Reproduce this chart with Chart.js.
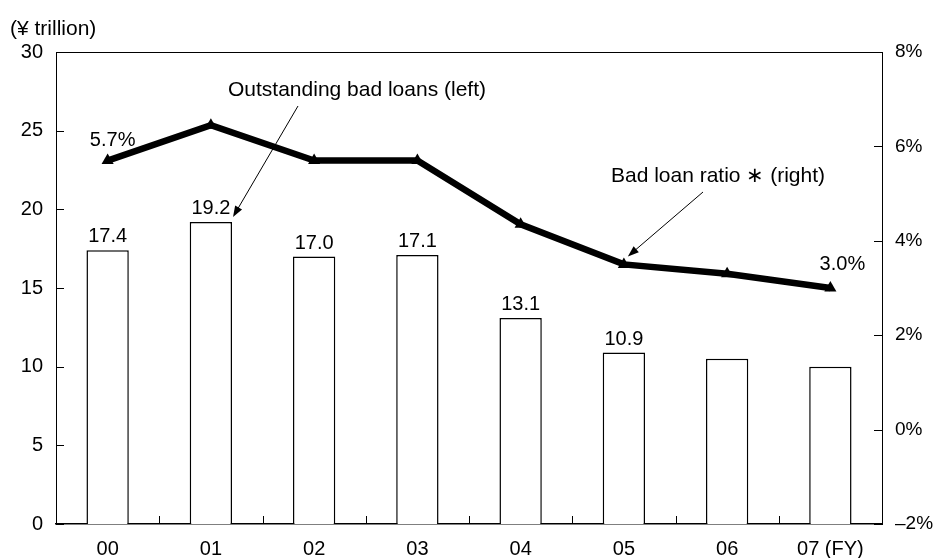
<!DOCTYPE html>
<html>
<head>
<meta charset="utf-8">
<script src="https://cdn.jsdelivr.net/npm/chart.js@4.4.1/dist/chart.umd.min.js"></script>
<style>
  html, body { margin: 0; padding: 0; background: #fff; }
  #wrap { width: 934px; height: 558px; position: relative; }
</style>
</head>
<body>
<div id="wrap"><canvas id="chart" width="934" height="558"></canvas></div>
<script>
// data
const years = ['00', '01', '02', '03', '04', '05', '06', '07 (FY)'];
const badLoans = [17.4, 19.2, 17.0, 17.1, 13.1, 10.9, 10.5, 10.0];   // ¥ trillion, left axis
const badLoanRatio = [5.7, 6.45, 5.7, 5.7, 4.35, 3.5, 3.3, 3.0];     // %, right axis
const barLabels = ['17.4', '19.2', '17.0', '17.1', '13.1', '10.9', '', ''];
const ratioLabels = ['5.7%', '', '', '', '', '', '', '3.0%'];
const leftTicks = [0, 5, 10, 15, 20, 25, 30];
const rightTicks = [-2, 0, 2, 4, 6, 8];

const FONT = '"Liberation Sans", Arial, sans-serif';
const FS = 20;

// small helper for the arrows
function arrow(ctx, x1, y1, x2, y2){
	const ang = Math.atan2(y2 - y1, x2 - x1);
	const len = 11, half = 4;
	ctx.beginPath();
	ctx.moveTo(x1, y1);
	ctx.lineTo(x2 - Math.cos(ang) * len * 0.8, y2 - Math.sin(ang) * len * 0.8);
	ctx.stroke();
	ctx.beginPath();
	ctx.moveTo(x2, y2);
	ctx.lineTo(x2 - Math.cos(ang) * len - Math.sin(ang) * half, y2 - Math.sin(ang) * len + Math.cos(ang) * half);
	ctx.lineTo(x2 - Math.cos(ang) * len + Math.sin(ang) * half, y2 - Math.sin(ang) * len - Math.cos(ang) * half);
	ctx.closePath();
	ctx.fill();
}

const extras = {
	id: 'extras',
	afterDraw(chart){
		const ctx = chart.ctx;
		const area = chart.chartArea;
		const x = chart.scales.x, yL = chart.scales.y, yR = chart.scales.y1;
		ctx.save();
		ctx.strokeStyle = '#000';
		ctx.fillStyle = '#000';

		// top border
		ctx.lineWidth = 1;
		ctx.beginPath();
		ctx.moveTo(area.left, area.top + 0.5);
		ctx.lineTo(area.right, area.top + 0.5);
		ctx.stroke();

		// inward ticks
		ctx.beginPath();
		leftTicks.forEach(v=>{
			const py = Math.round(yL.getPixelForValue(v)) + 0.5;
			ctx.moveTo(area.left, py); ctx.lineTo(area.left + 8, py);
		});
		rightTicks.forEach(v=>{
			const py = Math.round(yR.getPixelForValue(v)) + 0.5;
			ctx.moveTo(area.right - 8, py); ctx.lineTo(area.right, py);
		});
		for(let i = 1; i < years.length; i++){
			const px = Math.round((x.getPixelForValue(i - 1) + x.getPixelForValue(i)) / 2) + 0.5;
			ctx.moveTo(px, area.bottom); ctx.lineTo(px, area.bottom - 8);
		}
		ctx.stroke();

		ctx.font = FS + 'px ' + FONT;
		ctx.textAlign = 'center';
		ctx.textBaseline = 'alphabetic';

		// bar value labels
		const barMeta = chart.getDatasetMeta(1);
		barMeta.data.forEach((el, i)=>{
			if(barLabels[i]) ctx.fillText(barLabels[i], el.x, el.y - 8);
		});

		// line value labels
		const lineMeta = chart.getDatasetMeta(0);
		const p0 = lineMeta.data[0], pN = lineMeta.data[lineMeta.data.length - 1];
		ctx.fillText(ratioLabels[0], p0.x + 5, p0.y - 15);
		ctx.fillText(ratioLabels[ratioLabels.length - 1], pN.x + 12, pN.y - 18);

		// annotations
		ctx.font = '21px ' + FONT;
		ctx.fillText('Outstanding bad loans (left)', 357, 96);
		ctx.fillText('Bad loan ratio \u2217 (right)', 718, 182);
		ctx.lineWidth = 1;
		const b1 = barMeta.data[1];
		arrow(ctx, 298, 106, b1.x + b1.width / 2 + 1, b1.y - 5);
		const p5 = lineMeta.data[5];
		arrow(ctx, 703, 192, p5.x + 4, p5.y - 8);

		// unit title
		ctx.textAlign = 'left';
		ctx.fillText('(\u00a5 trillion)', 10, 35);
		ctx.restore();
	}
};

new Chart(document.getElementById('chart'), {
	data: {
		labels: years,
		datasets: [
			{
				type: 'line',
				data: badLoanRatio,
				yAxisID: 'y1',
				borderColor: '#000',
				backgroundColor: '#000',
				borderWidth: 6.5,
				pointStyle: 'triangle',
				pointRadius: 7,
				pointBorderWidth: 0,
				tension: 0,
				order: 0
			},
			{
				type: 'bar',
				data: badLoans,
				yAxisID: 'y',
				backgroundColor: '#fff',
				borderColor: '#000',
				borderWidth: 1.5,
				categoryPercentage: 1,
				barPercentage: 0.41,
				order: 1
			}
		]
	},
	options: {
		responsive: false,
		animation: false,
		layout: { padding: { top: 52, left: 0, right: 0, bottom: 0 } },
		plugins: { legend: { display: false }, tooltip: { enabled: false } },
		scales: {
			x: {
				offset: true,
				grid: { display: false },
				border: { display: true, color: '#000', width: 1.5 },
				ticks: { color: '#000', font: { family: FONT, size: FS }, padding: 5, maxRotation: 0, autoSkip: false },
				afterFit: s=>{ s.height = 34; }
			},
			y: {
				position: 'left',
				min: 0, max: 30,
				afterBuildTicks: s=>{ s.ticks = leftTicks.map(v=>({ value: v })); },
				grid: { display: false, drawTicks: false },
				border: { display: true, color: '#000', width: 1 },
				ticks: { color: '#000', font: { family: FONT, size: FS }, padding: 13 },
				afterFit: s=>{ s.width = 56; }
			},
			y1: {
				position: 'right',
				min: -2, max: 8,
				afterBuildTicks: s=>{ s.ticks = rightTicks.map(v=>({ value: v })); },
				grid: { display: false, drawTicks: false },
				border: { display: true, color: '#000', width: 1 },
				ticks: {
					color: '#000', font: { family: FONT, size: 19 }, padding: 13,
					callback: v=> v < 0 ? '\u2013' + Math.abs(v) + '%' : v + '%'
				},
				afterFit: s=>{ s.width = 52; }
			}
		}
	},
	plugins: [extras]
});
</script>
</body>
</html>
